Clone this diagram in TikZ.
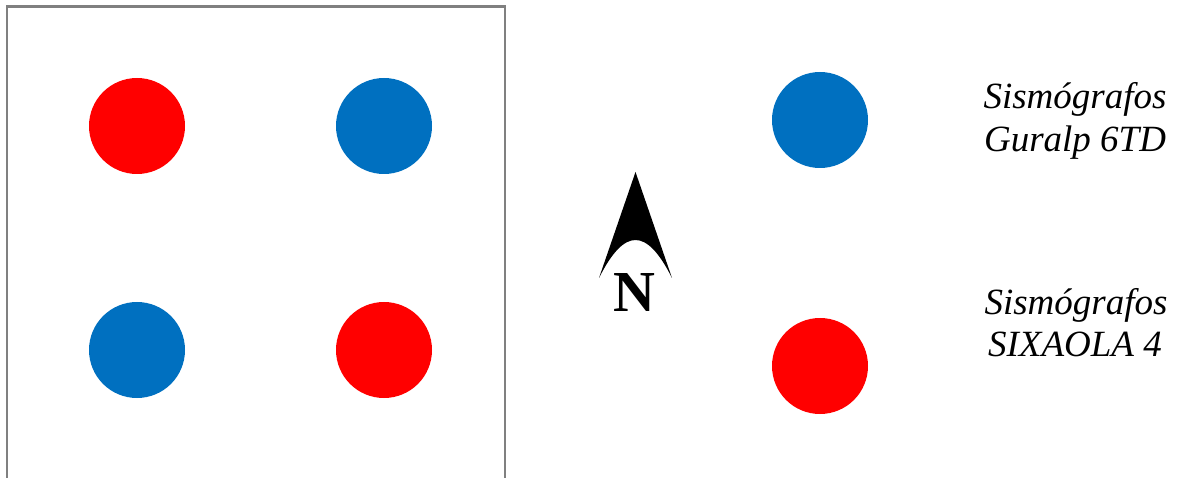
\documentclass[tikz,border=0pt]{standalone}
\usepackage{fontspec}
\setmainfont{Liberation Serif}
\definecolor{dotred}{HTML}{FF0000}
\definecolor{dotblue}{HTML}{0070C0}
\definecolor{framegray}{HTML}{808080}
\begin{document}
\begin{tikzpicture}[x=1pt,y=-1pt,
  dot/.style={circle,minimum size=96pt,inner sep=0pt,draw=none},
  reddot/.style={dot,fill=dotred},
  bluedot/.style={dot,fill=dotblue},
  legend/.style={anchor=base,inner sep=0pt,font=\fontsize{37}{43}\selectfont\itshape},
  northlabel/.style={anchor=base,inner sep=0pt,font=\fontsize{58}{64}\selectfont\bfseries}]
\useasboundingbox (0,0) rectangle (1178,478);
% frame
\draw[framegray,line width=2.5pt] (7,479) -- (7,6.5) -- (505,6.5) -- (505,479);
% dots in frame
\node[reddot]  (r1) at (137,126) {};
\node[bluedot] (b1) at (384,126) {};
\node[bluedot] (b2) at (137,350) {};
\node[reddot]  (r2) at (384,350) {};
% legend dots
\node[bluedot] (lb) at (820,120) {};
\node[reddot]  (lr) at (820,366) {};
% legend texts
\node[legend] (t1) at (1075,109) {Sismógrafos};
\node[legend] (t2) at (1075,152) {Guralp 6TD};
\node[legend] (t3) at (1076,315) {Sismógrafos};
\node[legend] (t4) at (1075,356) {SIXAOLA 4};
% north arrow
\fill[black] (635.5,172) -- (599,278)
  .. controls (612,252) and (624,240) .. (635.5,240)
  .. controls (647,240) and (659,252) .. (672,278) -- cycle;
\node[northlabel] (n) at (634.5,312) {N};
\end{tikzpicture}
\end{document}
